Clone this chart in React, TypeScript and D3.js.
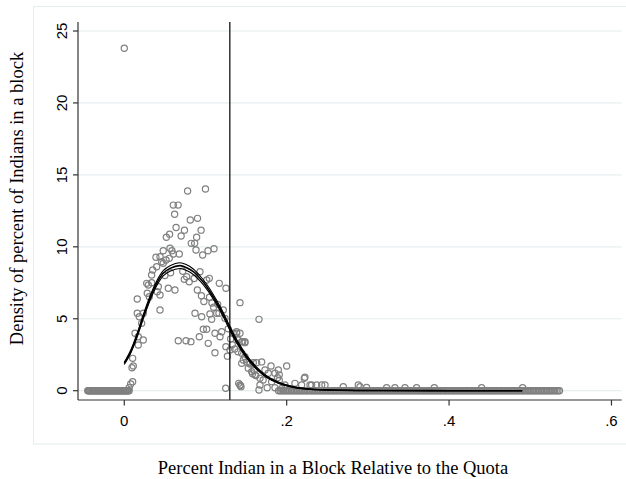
import React from "react";
import * as d3 from "d3";

const W = 626;
const H = 479;

// scatter points [percent, density]
const scatterPoints: [number, number][] = [
  [0, 23.8],
  [0.078, 13.88], [0.1, 14.02], [0.0604, 12.9], [0.0663, 12.9], [0.062, 12.26], [0.0813, 11.86], [0.0902, 11.98],
  [0.0638, 11.34], [0.0741, 11.16], [0.0946, 11.16], [0.0558, 10.88], [0.07, 10.75], [0.0891, 10.66], [0.0518, 10.66],
  [0.0825, 10.24], [0.0867, 10.24], [0.0883, 9.78], [0.0965, 9.43], [0.1031, 9.73], [0.1105, 9.87], [0.048, 9.73],
  [0.0563, 9.9], [0.0587, 9.73], [0.0604, 9.5], [0.0677, 9.5], [0.039, 9.27], [0.044, 9.31], [0.046, 8.96],
  [0.0514, 9.08], [0.0554, 9.2], [0.035, 8.39], [0.0337, 8.04], [0.0399, 8.62], [0.048, 8.85], [0.0932, 8.27],
  [0.0768, 7.92], [0.08, 7.57], [0.0739, 7.74], [0.1015, 7.69], [0.1047, 7.81], [0.117, 7.46], [0.1252, 7.12],
  [0.0276, 7.46], [0.0296, 7.35], [0.0337, 7.5], [0.0283, 6.77], [0.0308, 6.53], [0.0419, 7.23], [0.0406, 6.88],
  [0.044, 6.65], [0.044, 5.61], [0.0542, 7.12], [0.0624, 7.0], [0.016, 6.37], [0.1425, 6.12], [0.1659, 4.96],
  [0.016, 5.38], [0.0185, 5.14], [0.0234, 5.38], [0.0214, 4.68], [0.0132, 3.99], [0.0172, 3.75], [0.0234, 3.52],
  [0.0172, 3.18], [0.0103, 2.25], [0.0111, 1.72], [0.0095, 1.6], [0.0103, 0.63], [0.0079, 0.47], [0.006, 0.2],
  [0.0665, 3.47], [0.076, 3.47], [0.0821, 3.41], [0.0871, 5.38], [0.0953, 5.14], [0.0924, 3.75], [0.0973, 4.27],
  [0.1015, 4.27], [0.1034, 3.29], [0.1055, 5.33], [0.1076, 4.96], [0.1117, 3.99], [0.1117, 2.64], [0.1138, 5.38],
  [0.1166, 5.38], [0.1219, 5.61], [0.124, 5.03], [0.12, 4.1], [0.1179, 3.75], [0.1252, 3.06], [0.1302, 2.83],
  [0.1342, 3.99], [0.1384, 3.99], [0.1404, 3.52], [0.1458, 3.41], [0.1486, 3.41], [0.1446, 2.6], [0.1466, 2.13],
  [0.1446, 1.9], [0.1507, 2.0], [0.1548, 1.9], [0.1589, 1.95], [0.163, 1.95], [0.1249, 0.17],
  [0.1384, 4.1], [0.1425, 3.99], [0.1446, 3.41], [0.1486, 3.34], [0.1425, 0.4], [0.1437, 0.28], [0.1671, 0.4],
  [0.1659, 0.05], [0.1692, 2.0], [0.1807, 1.72], [0.1897, 1.44], [0.2, 1.72], [0.1856, 1.21], [0.1909, 1.1],
  [0.2217, 0.86], [0.1774, 1.21], [0.1733, 1.44], [0.1569, 1.32], [0.161, 1.1], [0.1527, 1.56], [0.1486, 2.36],
  [0.1548, 1.86], [0.2102, 0.51], [0.2184, 0.4], [0.2308, 0.4], [0.2369, 0.4], [0.2431, 0.4], [0.1979, 0.4],
  [0.1815, 0.63], [0.176, 0.2], [0.1856, 0.2], [0.194, 0.15], [0.1671, 0.86], [0.171, 0.75], [0.1888, 0.9],
  [0.1909, 0.73], [0.1409, 0.51], [0.1429, 0.37], [0.158, 1.17], [0.16, 1.4], [0.1621, 1.05],
  [0.128, 4.3], [0.131, 3.6], [0.133, 3.2], [0.136, 2.9], [0.14, 2.7], [0.127, 2.4],
  [0.05, 8.0], [0.057, 8.2], [0.072, 8.3], [0.086, 7.8], [0.09, 7.0], [0.095, 6.6], [0.098, 6.2], [0.105, 6.5],
  [0.108, 6.1], [0.11, 5.8], [0.115, 6.0],
  [0.2225, 0.93], [0.2287, 0.4], [0.2472, 0.4], [0.2697, 0.28], [0.2882, 0.4], [0.2903, 0.28], [0.2985, 0.23],
  [0.3231, 0.2], [0.3333, 0.2], [0.3457, 0.2], [0.36, 0.2], [0.3818, 0.2], [0.4401, 0.2], [0.4906, 0.2],
];

// blocks with zero density (left and right bands)
const zeroLeftX = [
  -0.045, -0.044, -0.043, -0.042, -0.041, -0.04, -0.039, -0.038, -0.037, -0.036, -0.035, -0.034, -0.033,
  -0.032, -0.031, -0.03, -0.029, -0.028, -0.027, -0.026, -0.025, -0.024, -0.023, -0.022, -0.021, -0.02,
  -0.019, -0.018, -0.017, -0.016, -0.015, -0.014, -0.013, -0.012, -0.011, -0.01, -0.009, -0.008, -0.007,
  -0.006, -0.005, -0.004, -0.003, -0.002, -0.001, 0, 0.001, 0.002, 0.003, 0.004, 0.005, 0.006,
];
const zeroRightX = [
  0.19, 0.192, 0.194, 0.196, 0.198, 0.2, 0.202, 0.204, 0.206, 0.208, 0.21, 0.212, 0.214, 0.216, 0.218, 0.22,
  0.222, 0.224, 0.226, 0.228, 0.23, 0.232, 0.234, 0.236, 0.238, 0.24, 0.242, 0.244, 0.246, 0.248, 0.25,
  0.252, 0.254, 0.256, 0.258, 0.26, 0.262, 0.264, 0.266, 0.268, 0.27, 0.272, 0.274, 0.276, 0.278, 0.28,
  0.282, 0.284, 0.286, 0.288, 0.29, 0.292, 0.294, 0.296, 0.298, 0.3, 0.302, 0.304, 0.306, 0.308, 0.31,
  0.312, 0.314, 0.316, 0.318, 0.32, 0.322, 0.324, 0.326, 0.328, 0.33, 0.332, 0.334, 0.336, 0.338, 0.34,
  0.342, 0.344, 0.346, 0.348, 0.35, 0.352, 0.354, 0.356, 0.358, 0.36, 0.362, 0.364, 0.366, 0.368, 0.37,
  0.372, 0.374, 0.376, 0.378, 0.38, 0.382, 0.384, 0.386, 0.388, 0.39, 0.392, 0.394, 0.396, 0.398, 0.4,
  0.402, 0.404, 0.406, 0.408, 0.41, 0.412, 0.414, 0.416, 0.418, 0.42, 0.422, 0.424, 0.426, 0.428, 0.43,
  0.432, 0.434, 0.436, 0.438, 0.44, 0.442, 0.444, 0.446, 0.448, 0.45, 0.452, 0.454, 0.456, 0.458, 0.46,
  0.462, 0.464, 0.466, 0.468, 0.47, 0.472, 0.474, 0.476, 0.478, 0.48, 0.482, 0.484, 0.486, 0.488, 0.49,
  0.492, 0.494, 0.496, 0.498, 0.5, 0.502, 0.504, 0.506, 0.508, 0.51, 0.512, 0.514, 0.516, 0.518, 0.52,
  0.522, 0.524, 0.526, 0.528, 0.53, 0.532, 0.534, 0.536,
];

// fitted density curve and confidence half-width
const curveX = [0, 0.007, 0.0152, 0.0234, 0.0317, 0.0399, 0.048, 0.0563, 0.0686, 0.0768, 0.085, 0.0932, 0.1015,
  0.1096, 0.1179, 0.1261, 0.1342, 0.1425, 0.1507, 0.163, 0.1754, 0.1917, 0.2081, 0.23, 0.25, 0.28, 0.32, 0.4, 0.49];
const curveY = [1.9, 2.6, 3.75, 5.14, 6.42, 7.46, 8.16, 8.5, 8.69, 8.55, 8.27, 7.81, 7.23, 6.53, 5.72, 4.8, 3.87,
  3.06, 2.36, 1.56, 0.97, 0.51, 0.26, 0.1, 0.05, 0.02, 0.01, 0.0, 0.0];
const ciHalf = [0.08, 0.1, 0.12, 0.14, 0.16, 0.17, 0.18, 0.19, 0.2, 0.2, 0.19, 0.18, 0.17, 0.16, 0.15, 0.14, 0.13,
  0.12, 0.1, 0.08, 0.06, 0.04, 0.03, 0.02, 0.01, 0.01, 0.005, 0, 0];

const quotaLine = 0.13;
const xTicks = [0, 0.2, 0.4, 0.6];
const xTickLabels = ["0", ".2", ".4", ".6"];
const yTicks = [0, 5, 10, 15, 20, 25];

const xTitle = "Percent Indian in a Block Relative to the Quota";
const yTitle = "Density of percent of Indians in a block";

export default function App() {
  const left = 78, right = 621.7, top = 22, bottom = 400;
  const x = d3.scaleLinear().domain([-0.057, 0.6126]).range([left, right]);
  const y = d3.scaleLinear().domain([0, 25]).range([390.7, 31]);

  const mk = (off: number) =>
    d3
      .line<number>()
      .x((_, i) => x(curveX[i]))
      .y((_, i) => y(curveY[i] + off * ciHalf[i]))
      .curve(d3.curveCatmullRom)(curveX) || "";

  const grid = "#E7EEF0";
  const gray = "#808080";
  const sans = "'Liberation Sans', Arial, sans-serif";
  const serif = "'Liberation Serif', 'Times New Roman', serif";

  const allPoints: [number, number][] = [
    ...zeroLeftX.map((v) => [v, 0] as [number, number]),
    ...zeroRightX.map((v) => [v, 0] as [number, number]),
    ...scatterPoints,
  ];

  return (
    <svg
      width={W}
      height={H}
      style={{ position: "absolute", left: 0, top: 0, background: "#fff" }}
    >
      <rect x={0} y={0} width={W} height={H} fill="#fff" />
      <rect x={33.5} y={6.5} width={W} height={437.5} fill="none" stroke={grid} strokeWidth={1.2} />
      {yTicks.map((t) => (
        <line key={"g" + t} x1={left} x2={right} y1={y(t)} y2={y(t)} stroke={grid} strokeWidth={1.2} />
      ))}
      {allPoints.map((p, i) => (
        <circle key={i} cx={x(p[0])} cy={y(p[1])} r={3.1} fill="none" stroke={gray} strokeWidth={1.2} />
      ))}
      <path d={mk(1)} fill="none" stroke="#000" strokeWidth={1.1} />
      <path d={mk(-1)} fill="none" stroke="#000" strokeWidth={1.1} />
      <path d={mk(0)} fill="none" stroke="#000" strokeWidth={1.6} />
      <line x1={x(quotaLine)} x2={x(quotaLine)} y1={top} y2={bottom} stroke="#000" strokeWidth={1.2} />
      {/* axes */}
      <line x1={left} x2={left} y1={top} y2={bottom} stroke="#333" strokeWidth={1.2} />
      <line x1={left} x2={right} y1={bottom} y2={bottom} stroke="#333" strokeWidth={1.2} />
      {yTicks.map((t) => (
        <g key={"yt" + t}>
          <line x1={left - 5} x2={left} y1={y(t)} y2={y(t)} stroke="#333" strokeWidth={1.2} />
          <text
            transform={`translate(${66.5},${y(t)}) rotate(-90)`}
            textAnchor="middle"
            fontFamily={sans}
            fontSize={15}
            fill="#000"
          >
            {t}
          </text>
        </g>
      ))}
      {xTicks.map((t, i) => (
        <g key={"xt" + t}>
          <line x1={x(t)} x2={x(t)} y1={bottom} y2={bottom + 5.5} stroke="#333" strokeWidth={1.2} />
          <text x={x(t)} y={425.5} textAnchor="middle" fontFamily={sans} fontSize={15} fill="#000">
            {xTickLabels[i]}
          </text>
        </g>
      ))}
      <text x={333} y={473.5} textAnchor="middle" fontFamily={serif} fontSize={18.5} fill="#000">
        {xTitle}
      </text>
      <text
        transform={`translate(22.5,198.5) rotate(-90)`}
        textAnchor="middle"
        fontFamily={serif}
        fontSize={18.5}
        fill="#000"
      >
        {yTitle}
      </text>
    </svg>
  );
}
